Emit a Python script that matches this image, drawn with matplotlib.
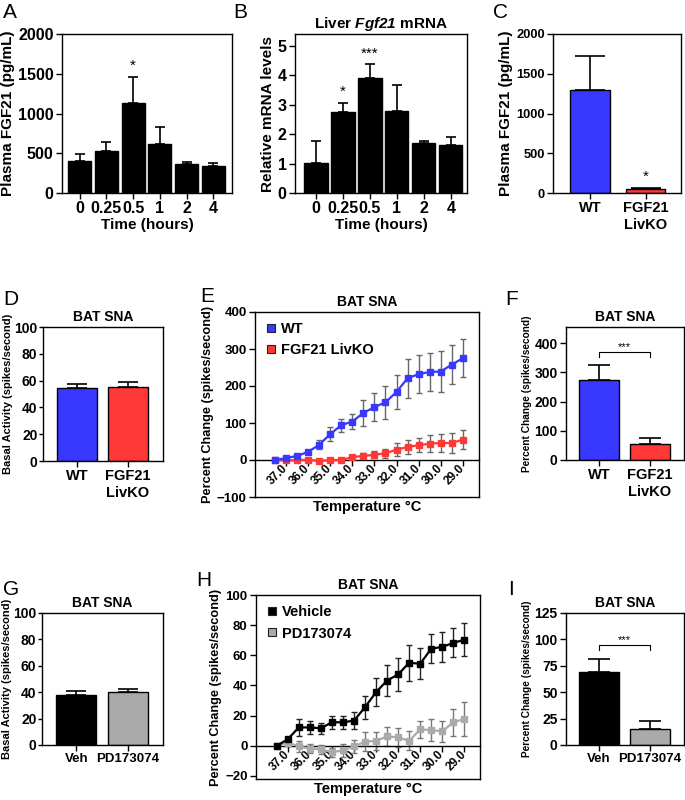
import numpy as np
import matplotlib
matplotlib.use('Agg')
import matplotlib.pyplot as plt
from matplotlib.lines import Line2D

plt.rcParams['font.family'] = ['Liberation Sans', 'DejaVu Sans']
plt.rcParams['font.weight'] = 'bold'
plt.rcParams['axes.labelweight'] = 'bold'
plt.rcParams['axes.linewidth'] = 1.0
plt.rcParams['mathtext.fontset'] = 'custom'
plt.rcParams['mathtext.it'] = 'Liberation Sans:bold:italic'
plt.rcParams['mathtext.rm'] = 'Liberation Sans:bold:italic'

BLUE = '#3838ff'
RED = '#ff3838'
GREY = '#aaaaaa'
BLACK = '#000000'

# --- data --------------------------------------------------------------------
time_labels = ['0', '0.25', '0.5', '1', '2', '4']
plasma_fgf21 = [400, 526, 1135, 619, 362, 345]
plasma_fgf21_err = [85, 114, 322, 206, 30, 30]
plasma_stars = ['', '', '*', '', '', '']

liver_mrna = [1.02, 2.74, 3.92, 2.80, 1.70, 1.64]
liver_mrna_err = [0.74, 0.33, 0.45, 0.86, 0.08, 0.26]
liver_stars = ['', '*', '***', '', '', '']

geno_labels = ['WT', 'FGF21\nLivKO']
geno_plasma = [1290, 55]
geno_plasma_err = [432, 10]
geno_plasma_stars = ['', '*']

geno_basal = [54.8, 55.3]
geno_basal_err = [3.0, 3.3]

temps = [37.5, 37.0, 36.5, 36.0, 35.5, 35.0, 34.5, 34.0, 33.5,
         33.0, 32.5, 32.0, 31.5, 31.0, 30.5, 30.0, 29.5, 29.0]
temp_ticks = [37.0, 36.0, 35.0, 34.0, 33.0, 32.0, 31.0, 30.0, 29.0]

wt_curve = [0, 5, 11, 22, 41, 70, 94, 104, 127,
            143, 156, 184, 221, 232, 238, 239, 258, 275]
wt_curve_err = [1, 3, 5, 6, 12, 18, 17, 20, 36,
                38, 45, 47, 53, 52, 52, 56, 52, 51]
ko_curve = [0, -1, -1, 1, -3, 0, 0, 8, 11,
            14, 18, 28, 35, 40, 44, 46, 46, 55]
ko_curve_err = [1, 3, 3, 3, 4, 3, 3, 5, 7,
                9, 13, 17, 19, 19, 23, 24, 26, 25]

geno_pct = [274, 54]
geno_pct_err = [51, 21]

drug_labels = ['Veh', 'PD173074']
drug_basal = [38.0, 39.8]
drug_basal_err = [3.0, 2.8]

veh_curve = [0, 4.4, 12.2, 12.2, 11.6, 15.6, 15.6, 16.7, 25.6,
             35.6, 43.3, 47.3, 55.1, 54.4, 64.4, 65.6, 68.2, 70.4]
veh_curve_err = [0.5, 1.5, 5.6, 4.2, 3.6, 4.2, 4.2, 5.8, 7.5,
                 9.2, 10.5, 10.8, 11.8, 10.2, 9.8, 10.0, 9.6, 11.0]
pd_curve = [0, 2.2, -0.4, -1.8, -2.4, -4.2, -3.1, -0.4, 2.7,
            3.3, 6.2, 5.6, 3.3, 10.9, 10.4, 9.6, 15.6, 17.8]
pd_curve_err = [0.5, 2.0, 3.7, 3.0, 3.0, 3.0, 4.0, 4.2, 6.2,
                6.0, 6.0, 6.2, 6.3, 5.6, 7.4, 6.8, 9.0, 11.0]

drug_pct = [68.7, 14.9]
drug_pct_err = [12.9, 7.9]

W, H = 685, 800
fig = plt.figure(figsize=(W / 100, H / 100), dpi=100)


def add_ax(left, top, right, bottom):
    return fig.add_axes([left / W, 1 - bottom / H, (right - left) / W, (bottom - top) / H])


def style_ax(ax, tick_fs):
    ax.tick_params(direction='out', length=4, width=1, labelsize=tick_fs, pad=2)
    for lab in ax.get_xticklabels() + ax.get_yticklabels():
        lab.set_fontweight('bold')


def bar_panel(ax, vals, errs, colors, labels, ylim, yticks, ylabel, ylabel_fs,
              tick_fs, width, xlim, capsize, stars=None, title=None):
    x = np.arange(len(vals))
    ax.bar(x, vals, width, color=colors, edgecolor='black', linewidth=1.0, zorder=2)
    ax.errorbar(x, vals, yerr=[np.zeros(len(vals)), errs], fmt='none',
                ecolor='black', elinewidth=1.2, capsize=capsize, capthick=1.2, zorder=1)
    ax.set_xticks(x)
    ax.set_xticklabels(labels)
    ax.set_xlim(*xlim)
    ax.set_ylim(*ylim)
    ax.set_yticks(yticks)
    ax.set_ylabel(ylabel, fontsize=ylabel_fs, labelpad=2)
    style_ax(ax, tick_fs)
    if stars:
        for xi, v, e, s in zip(x, vals, errs, stars):
            if s:
                ax.text(xi, v + e + (ylim[1] - ylim[0]) * 0.025, s, ha='center',
                        va='bottom', fontsize=11, fontweight='normal')
    if title:
        ax.set_title(title, fontsize=10, fontweight='bold', pad=4)


def bracket(ax, y, drop, label):
    ax.plot([0, 0, 1, 1], [y - drop, y, y, y - drop], color='black', lw=0.8)
    ax.text(0.5, y, label, ha='center', va='bottom', fontsize=8, fontweight='normal')


def curve_panel(ax, s1, e1, c1, ec1, lab1, s2, e2, c2, ec2, lab2, ylim, yticks, xlim):
    # x axis sits on y = 0, box closed at the bottom
    ax.spines['bottom'].set_position(('data', 0))
    ax.axhline(ylim[0], color='black', lw=1.0, clip_on=False)
    for s, e, c, ec, lab, z in [(s1, e1, c1, ec1, lab1, 3), (s2, e2, c2, ec2, lab2, 2)]:
        ax.errorbar(temps, s, yerr=e, fmt='none', ecolor=ec, elinewidth=1.0,
                    capsize=2.5, capthick=1.0, zorder=z)
        ax.plot(temps, s, color=c, lw=1.6, marker='s', markersize=4.5,
                markeredgecolor=c, zorder=z + 1, label=lab)
    ax.set_xlim(*xlim)
    ax.set_ylim(*ylim)
    ax.set_yticks(yticks)
    ax.set_xticks(temp_ticks)
    ax.set_xticklabels([f'{t:.1f}' for t in temp_ticks])
    ax.set_ylabel('Percent Change (spikes/second)', fontsize=9.2, labelpad=2)
    ax.set_xlabel('Temperature °C', fontsize=10.5)
    ax.xaxis.set_label_coords(0.5, -0.015)
    ax.xaxis.label.set_va('top')
    style_ax(ax, 9.5)
    ax.tick_params(axis='x', labelsize=8.5, pad=1, labelrotation=45)
    for lab in ax.get_xticklabels():
        lab.set_ha('right')
        lab.set_va('center')
        lab.set_rotation_mode('anchor')
    ax.set_title('BAT SNA', fontsize=10, fontweight='bold', pad=4)
    handles = [Line2D([], [], ls='none', marker='s', markersize=6, markerfacecolor=c1,
                      markeredgecolor='#222222', markeredgewidth=0.8),
               Line2D([], [], ls='none', marker='s', markersize=6, markerfacecolor=c2,
                      markeredgecolor='#222222', markeredgewidth=0.8)]
    ax.legend(handles, [lab1, lab2], loc='upper left', frameon=False,
              prop={'weight': 'bold', 'size': 10.5}, handletextpad=0.3,
              borderaxespad=0.3, labelspacing=0.5, handlelength=0.8)


# A
axA = add_ax(62, 34, 232, 193)
bar_panel(axA, plasma_fgf21, plasma_fgf21_err, ['black'] * 6, time_labels, (0, 2000),
          [0, 500, 1000, 1500, 2000], 'Plasma FGF21 (pg/mL)', 11, 11.5, 0.86,
          (-0.66, 5.7), 3.5, stars=plasma_stars)
axA.set_xlabel('Time (hours)', fontsize=11, labelpad=1)

# B
axB = add_ax(295, 34, 467, 193)
bar_panel(axB, liver_mrna, liver_mrna_err, ['black'] * 6, time_labels, (0, 5.4),
          [0, 1, 2, 3, 4, 5], 'Relative mRNA levels', 11, 11.5, 0.86,
          (-0.78, 5.6), 3.5, stars=liver_stars)
axB.set_xlabel('Time (hours)', fontsize=11, labelpad=1)
axB.set_title(r'Liver $\mathrm{Fgf21}$ mRNA', fontsize=11, fontweight='bold', pad=4)

# C
axC = add_ax(553, 34, 681, 193)
bar_panel(axC, geno_plasma, geno_plasma_err, [BLUE, RED], geno_labels, (0, 2000),
          [0, 500, 1000, 1500, 2000], 'Plasma FGF21 (pg/mL)', 11, 9.3, 0.72,
          (-0.67, 1.64), 11, stars=geno_plasma_stars)
axC.tick_params(axis='x', labelsize=10.5)

# D
axD = add_ax(43, 327, 163, 461)
bar_panel(axD, geno_basal, geno_basal_err, [BLUE, RED], geno_labels, (0, 100),
          [0, 20, 40, 60, 80, 100], 'Basal Activity (spikes/second)', 8.0, 10, 0.78,
          (-0.67, 1.69), 7.5, title='BAT SNA')
axD.tick_params(axis='x', labelsize=10.5)
axD.tick_params(axis='y', length=3, pad=1)
axD.yaxis.labelpad = 1

# E
axE = add_ax(255, 312, 479, 497)
curve_panel(axE, wt_curve, wt_curve_err, BLUE, '#666666', 'WT',
            ko_curve, ko_curve_err, RED, '#666666', 'FGF21 LivKO',
            (-100, 400), [-100, 0, 100, 200, 300, 400], (38.4, 28.27))

# F
axF = add_ax(566, 327, 684, 460)
bar_panel(axF, geno_pct, geno_pct_err, [BLUE, RED], geno_labels, (0, 455),
          [0, 100, 200, 300, 400], 'Percent Change (spikes/second)', 7.3, 10, 0.78,
          (-0.65, 1.67), 8, title='BAT SNA')
axF.tick_params(axis='x', labelsize=10.5)
bracket(axF, 370, 18, '***')

# G
axG = add_ax(42, 613, 163, 745)
bar_panel(axG, drug_basal, drug_basal_err, [BLACK, GREY], drug_labels, (0, 100),
          [0, 20, 40, 60, 80, 100], 'Basal Activity (spikes/second)', 8.0, 10, 0.78,
          (-0.67, 1.69), 7.5, title='BAT SNA')
axG.tick_params(axis='x', labelsize=9.5)
axG.tick_params(axis='y', length=3, pad=1)
axG.yaxis.labelpad = 1

# H
axH = add_ax(256, 595, 480, 779)
curve_panel(axH, veh_curve, veh_curve_err, BLACK, '#222222', 'Vehicle',
            pd_curve, pd_curve_err, GREY, '#777777', 'PD173074',
            (-22, 100), [-20, 0, 20, 40, 60, 80, 100], (38.44, 28.29))

# I
axI = add_ax(566, 613, 684, 745)
bar_panel(axI, drug_pct, drug_pct_err, [BLACK, GREY], drug_labels, (0, 125),
          [0, 25, 50, 75, 100, 125], 'Percent Change (spikes/second)', 7.3, 10, 0.78,
          (-0.65, 1.67), 8, title='BAT SNA')
axI.tick_params(axis='x', labelsize=9.5)
bracket(axI, 95, 5, '***')

# panel letters
for letter, px, py in [('A', 3, 3), ('B', 233, 3), ('C', 493, 3),
                       ('D', 3, 290), ('E', 200, 287), ('F', 505, 290),
                       ('G', 3, 580), ('H', 196, 571), ('I', 508, 580)]:
    fig.text(px / W, 1 - py / H, letter, fontsize=15, fontweight='normal',
             ha='left', va='top')

fig.savefig('out.png', dpi=100)
